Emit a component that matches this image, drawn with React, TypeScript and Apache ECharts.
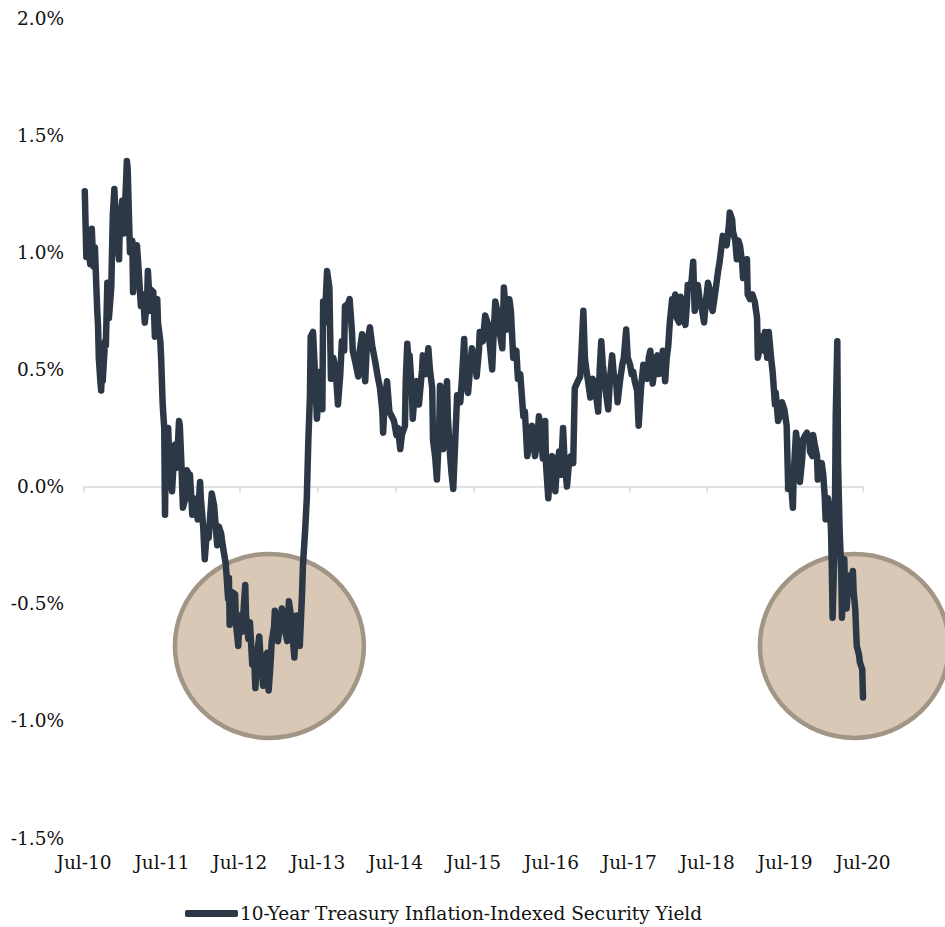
import React, { useEffect, useRef } from "react";
import * as echarts from "echarts";

// 10-Year TIPS yield, x = years since Jul-2010, y = yield in percent
const tipsYield2010to2012: [number, number][] = [
  [0.01, 1.26], [0.03, 0.98], [0.05, 1.03], [0.08, 0.95], [0.10, 1.10], [0.12, 0.94], [0.14, 1.02], [0.17, 0.75],
  [0.18, 0.69], [0.19, 0.55], [0.21, 0.45], [0.22, 0.41], [0.23, 0.50], [0.24, 0.45], [0.27, 0.62], [0.28, 0.60],
  [0.30, 0.87], [0.32, 0.72], [0.35, 0.85], [0.37, 1.16], [0.39, 1.27], [0.41, 1.10], [0.42, 1.06], [0.45, 0.97],
  [0.46, 1.12], [0.49, 1.22], [0.51, 1.08], [0.54, 1.30], [0.55, 1.39], [0.56, 1.36], [0.58, 1.12], [0.59, 1.00],
  [0.62, 1.05], [0.63, 0.83], [0.65, 0.96], [0.68, 1.03], [0.71, 0.88], [0.73, 0.77], [0.76, 0.82], [0.78, 0.70],
  [0.81, 0.80], [0.82, 0.92], [0.85, 0.75], [0.86, 0.84], [0.89, 0.83], [0.91, 0.64], [0.94, 0.80], [0.95, 0.70],
  [0.98, 0.62], [0.99, 0.55], [1.00, 0.45], [1.01, 0.35], [1.03, 0.25], [1.04, -0.12], [1.05, 0.15], [1.08, 0.25],
  [1.10, 0.08], [1.13, -0.02], [1.16, 0.15], [1.17, 0.18], [1.19, 0.08], [1.22, 0.28], [1.23, 0.26], [1.25, 0.10],
  [1.27, -0.09], [1.30, -0.05], [1.32, 0.07], [1.35, 0.05], [1.36, 0.05], [1.39, -0.12], [1.41, -0.05], [1.44, -0.08],
  [1.46, -0.14], [1.49, 0.02], [1.50, -0.05], [1.53, -0.17], [1.55, -0.31], [1.58, -0.18], [1.60, -0.22], [1.64, -0.03],
  [1.67, -0.08], [1.71, -0.25], [1.73, -0.17], [1.76, -0.20], [1.78, -0.25], [1.82, -0.33], [1.85, -0.48], [1.86, -0.39],
  [1.87, -0.59], [1.90, -0.45], [1.94, -0.46], [1.95, -0.58], [1.98, -0.68],
];

const tipsYield2012to2014: [number, number][] = [
  [2.00, -0.55], [2.03, -0.62], [2.07, -0.42], [2.08, -0.55], [2.11, -0.65], [2.13, -0.58], [2.16, -0.76], [2.18, -0.70],
  [2.20, -0.86], [2.22, -0.72], [2.25, -0.64], [2.27, -0.75], [2.30, -0.85], [2.32, -0.74], [2.35, -0.71], [2.37, -0.87],
  [2.39, -0.78], [2.41, -0.66], [2.44, -0.60], [2.45, -0.53], [2.48, -0.62], [2.49, -0.66], [2.52, -0.58], [2.54, -0.52],
  [2.57, -0.60], [2.61, -0.66], [2.63, -0.49], [2.66, -0.56], [2.70, -0.73], [2.72, -0.62], [2.73, -0.55], [2.76, -0.63],
  [2.77, -0.68], [2.80, -0.45], [2.81, -0.34], [2.84, -0.18], [2.86, -0.05], [2.88, 0.20], [2.90, 0.38], [2.91, 0.64],
  [2.94, 0.66], [2.97, 0.45], [2.99, 0.29], [3.02, 0.45], [3.03, 0.49], [3.06, 0.33], [3.07, 0.79], [3.09, 0.70],
  [3.12, 0.92], [3.15, 0.85], [3.17, 0.46], [3.20, 0.55], [3.23, 0.50], [3.26, 0.35], [3.29, 0.48], [3.31, 0.62],
  [3.34, 0.58], [3.35, 0.77], [3.39, 0.78], [3.41, 0.80], [3.44, 0.66], [3.45, 0.58], [3.49, 0.52], [3.52, 0.47],
  [3.54, 0.58], [3.57, 0.65], [3.59, 0.52], [3.61, 0.45], [3.63, 0.60], [3.67, 0.68], [3.70, 0.60], [3.74, 0.53],
  [3.77, 0.47], [3.80, 0.42], [3.83, 0.32], [3.84, 0.23], [3.86, 0.36], [3.89, 0.45], [3.92, 0.32], [3.95, 0.30],
  [3.98, 0.28],
];

const tipsYield2014to2016: [number, number][] = [
  [4.01, 0.22], [4.03, 0.25], [4.06, 0.16], [4.08, 0.22], [4.12, 0.26], [4.13, 0.45], [4.15, 0.61], [4.17, 0.52],
  [4.18, 0.56], [4.21, 0.40], [4.22, 0.29], [4.25, 0.42], [4.27, 0.45], [4.30, 0.35], [4.31, 0.39], [4.34, 0.50],
  [4.35, 0.56], [4.39, 0.48], [4.42, 0.59], [4.44, 0.50], [4.47, 0.42], [4.48, 0.20], [4.51, 0.12], [4.53, 0.03],
  [4.56, 0.25], [4.57, 0.43], [4.60, 0.30], [4.61, 0.16], [4.63, 0.35], [4.66, 0.45], [4.67, 0.30], [4.70, 0.13],
  [4.72, 0.05], [4.74, -0.01], [4.76, 0.15], [4.79, 0.39], [4.83, 0.36], [4.85, 0.45], [4.88, 0.63], [4.90, 0.45],
  [4.93, 0.40], [4.96, 0.52], [4.98, 0.59], [5.02, 0.54], [5.04, 0.47], [5.07, 0.58], [5.08, 0.66], [5.12, 0.62],
  [5.15, 0.73], [5.19, 0.69], [5.21, 0.60], [5.24, 0.50], [5.26, 0.66], [5.28, 0.79], [5.31, 0.74], [5.34, 0.65],
  [5.37, 0.59], [5.39, 0.85], [5.42, 0.72], [5.43, 0.67], [5.46, 0.80], [5.48, 0.75], [5.51, 0.55], [5.55, 0.58],
  [5.57, 0.46], [5.60, 0.48], [5.64, 0.30], [5.66, 0.32], [5.69, 0.13], [5.70, 0.15], [5.73, 0.22], [5.75, 0.26],
  [5.79, 0.13], [5.82, 0.20], [5.84, 0.30], [5.87, 0.22], [5.89, 0.12], [5.92, 0.28], [5.93, 0.10], [5.96, -0.05],
  [5.98, 0.06],
];

const tipsYield2016to2018: [number, number][] = [
  [6.01, 0.13], [6.03, 0.06], [6.05, -0.02], [6.07, 0.08], [6.10, 0.15], [6.12, 0.05], [6.15, 0.25], [6.17, 0.10],
  [6.20, 0.00], [6.23, 0.12], [6.25, 0.13], [6.28, 0.10], [6.30, 0.42], [6.34, 0.45], [6.37, 0.47], [6.39, 0.60],
  [6.41, 0.75], [6.43, 0.55], [6.44, 0.52], [6.47, 0.45], [6.50, 0.38], [6.52, 0.45], [6.53, 0.46], [6.57, 0.40],
  [6.60, 0.32], [6.62, 0.50], [6.64, 0.62], [6.66, 0.52], [6.68, 0.46], [6.70, 0.40], [6.73, 0.33], [6.75, 0.45],
  [6.78, 0.56], [6.80, 0.48], [6.83, 0.45], [6.85, 0.36], [6.88, 0.45], [6.91, 0.52], [6.93, 0.55], [6.96, 0.67],
  [6.98, 0.55], [7.01, 0.52], [7.03, 0.48], [7.05, 0.49], [7.07, 0.45], [7.10, 0.41], [7.12, 0.26], [7.15, 0.42],
  [7.18, 0.52], [7.20, 0.48], [7.23, 0.46], [7.25, 0.55], [7.27, 0.58], [7.29, 0.50], [7.30, 0.44], [7.33, 0.52],
  [7.36, 0.56], [7.38, 0.48], [7.39, 0.49], [7.42, 0.55], [7.43, 0.58], [7.46, 0.45], [7.48, 0.55], [7.50, 0.60],
  [7.52, 0.70], [7.55, 0.80], [7.57, 0.78], [7.59, 0.82], [7.61, 0.72], [7.64, 0.70], [7.66, 0.81], [7.69, 0.75],
  [7.72, 0.69], [7.74, 0.78], [7.75, 0.86], [7.78, 0.85], [7.80, 0.88], [7.82, 0.96], [7.83, 0.85], [7.84, 0.75],
  [7.87, 0.82], [7.88, 0.86], [7.91, 0.78], [7.93, 0.76], [7.96, 0.70], [7.98, 0.78],
];

const tipsYield2018to2020: [number, number][] = [
  [8.01, 0.87], [8.04, 0.83], [8.06, 0.76], [8.07, 0.75], [8.10, 0.82], [8.14, 0.92], [8.16, 0.96], [8.20, 1.07],
  [8.23, 1.04], [8.25, 1.03], [8.28, 1.12], [8.29, 1.17], [8.32, 1.14], [8.33, 1.09], [8.36, 1.05], [8.38, 0.97],
  [8.40, 1.05], [8.42, 1.03], [8.45, 0.95], [8.46, 0.89], [8.49, 0.92], [8.51, 0.97], [8.52, 0.82], [8.55, 0.80],
  [8.58, 0.82], [8.61, 0.79], [8.64, 0.72], [8.65, 0.55], [8.68, 0.60], [8.70, 0.64], [8.73, 0.58], [8.74, 0.66],
  [8.77, 0.55], [8.79, 0.66], [8.82, 0.55], [8.84, 0.49], [8.87, 0.35], [8.88, 0.40], [8.91, 0.28], [8.93, 0.30],
  [8.96, 0.36], [8.99, 0.33], [9.02, 0.26], [9.04, -0.01], [9.06, 0.05], [9.08, 0.00], [9.10, -0.09], [9.11, 0.05],
  [9.14, 0.23], [9.17, 0.15], [9.19, 0.02], [9.22, 0.12], [9.23, 0.20], [9.26, 0.22], [9.28, 0.23], [9.31, 0.20],
  [9.32, 0.15], [9.35, 0.13], [9.36, 0.22], [9.38, 0.18], [9.41, 0.13], [9.42, 0.03], [9.45, 0.08], [9.47, 0.10],
  [9.49, 0.05], [9.51, -0.05], [9.52, -0.14], [9.55, -0.05], [9.58, -0.12], [9.59, -0.19], [9.60, -0.35], [9.61, -0.56],
  [9.63, -0.30], [9.64, -0.10], [9.65, 0.30], [9.67, 0.62], [9.68, 0.10], [9.69, -0.05], [9.70, -0.19], [9.72, -0.35],
  [9.73, -0.56], [9.74, -0.40], [9.76, -0.31], [9.77, -0.45], [9.79, -0.52], [9.81, -0.42], [9.82, -0.38], [9.85, -0.45],
  [9.87, -0.36], [9.88, -0.45], [9.90, -0.52], [9.92, -0.68], [9.95, -0.72], [9.96, -0.75], [9.99, -0.78], [10.00, -0.90],
];

const xTickLabels = [
  "Jul-10", "Jul-11", "Jul-12", "Jul-13", "Jul-14", "Jul-15",
  "Jul-16", "Jul-17", "Jul-18", "Jul-19", "Jul-20",
];

const seriesName = "10-Year Treasury Inflation-Indexed Security Yield";

// Negative-real-yield episodes to highlight: [years since Jul-10, yield %]
const highlightCenters: [number, number][] = [
  [2.38, -0.68],
  [9.89, -0.68],
];

const FONT = "'DejaVu Serif', 'Liberation Serif', serif";
const FONT_SIZE = 18.5;
const LINE_COLOR = "#2d3847";
const TEXT_COLOR = "#111111";

export default function App() {
  const ref = useRef<HTMLDivElement | null>(null);

  useEffect(() => {
    if (!ref.current) return;
    const chart = echarts.init(ref.current, undefined, { renderer: "svg" });

    const data = [
      ...tipsYield2010to2012,
      ...tipsYield2012to2014,
      ...tipsYield2014to2016,
      ...tipsYield2016to2018,
      ...tipsYield2018to2020,
    ];

    chart.setOption({
      animation: false,
      backgroundColor: "#ffffff",
      textStyle: { fontFamily: FONT },
      grid: { left: 84, right: 82, top: 18, bottom: 89, containLabel: false },
      xAxis: [
        {
          // labels along the bottom edge
          type: "value",
          min: 0,
          max: 10,
          interval: 1,
          position: "bottom",
          axisLine: { show: false, onZero: false },
          axisTick: { show: false },
          splitLine: { show: false },
          axisLabel: {
            formatter: (v: number) => xTickLabels[Math.round(v)] ?? "",
            color: TEXT_COLOR,
            fontSize: FONT_SIZE,
            fontFamily: FONT,
            margin: 15,
          },
        },
        {
          // baseline with ticks at the zero line
          type: "value",
          min: 0,
          max: 10,
          interval: 1,
          position: "bottom",
          axisLine: {
            show: true,
            onZero: true,
            lineStyle: { color: "#d9d9d9", width: 1.5 },
          },
          axisTick: { show: true, length: 6, lineStyle: { color: "#d9d9d9", width: 1.5 } },
          axisLabel: { show: false },
          splitLine: { show: false },
        },
      ],
      yAxis: {
        type: "value",
        min: -1.5,
        max: 2,
        interval: 0.5,
        axisLine: { show: false },
        axisTick: { show: false },
        splitLine: { show: false },
        axisLabel: {
          formatter: (v: number) => v.toFixed(1) + "%",
          color: TEXT_COLOR,
          fontSize: FONT_SIZE,
          fontFamily: FONT,
          margin: 20,
        },
      },
      legend: {
        left: 185,
        top: 904,
        padding: 0,
        icon: "roundRect",
        itemWidth: 53,
        itemHeight: 7,
        textStyle: { color: TEXT_COLOR, fontSize: FONT_SIZE, fontFamily: FONT, padding: [0, 0, 0, -3] },
        data: [seriesName],
      },
      series: [
        {
          name: seriesName,
          type: "line",
          xAxisIndex: 0,
          yAxisIndex: 0,
          data,
          symbol: "none",
          showSymbol: false,
          z: 5,
          itemStyle: { color: LINE_COLOR },
          lineStyle: { color: LINE_COLOR, width: 6.5, cap: "round", join: "round" },
        },
      ],
    });

    const ellipses = highlightCenters.map((c) => {
      const p = chart.convertToPixel({ seriesIndex: 0 }, c) as number[];
      return {
        type: "ellipse",
        z: 1,
        silent: true,
        shape: { cx: p[0], cy: p[1], rx: 94.5, ry: 92 },
        style: { fill: "#d8c8b5", stroke: "#a19585", lineWidth: 4.5 },
      };
    });
    chart.setOption({ graphic: ellipses });

    return () => chart.dispose();
  }, []);

  return (
    <div
      ref={ref}
      style={{ position: "fixed", left: 0, top: 0, width: 945, height: 927, background: "#fff" }}
    />
  );
}
